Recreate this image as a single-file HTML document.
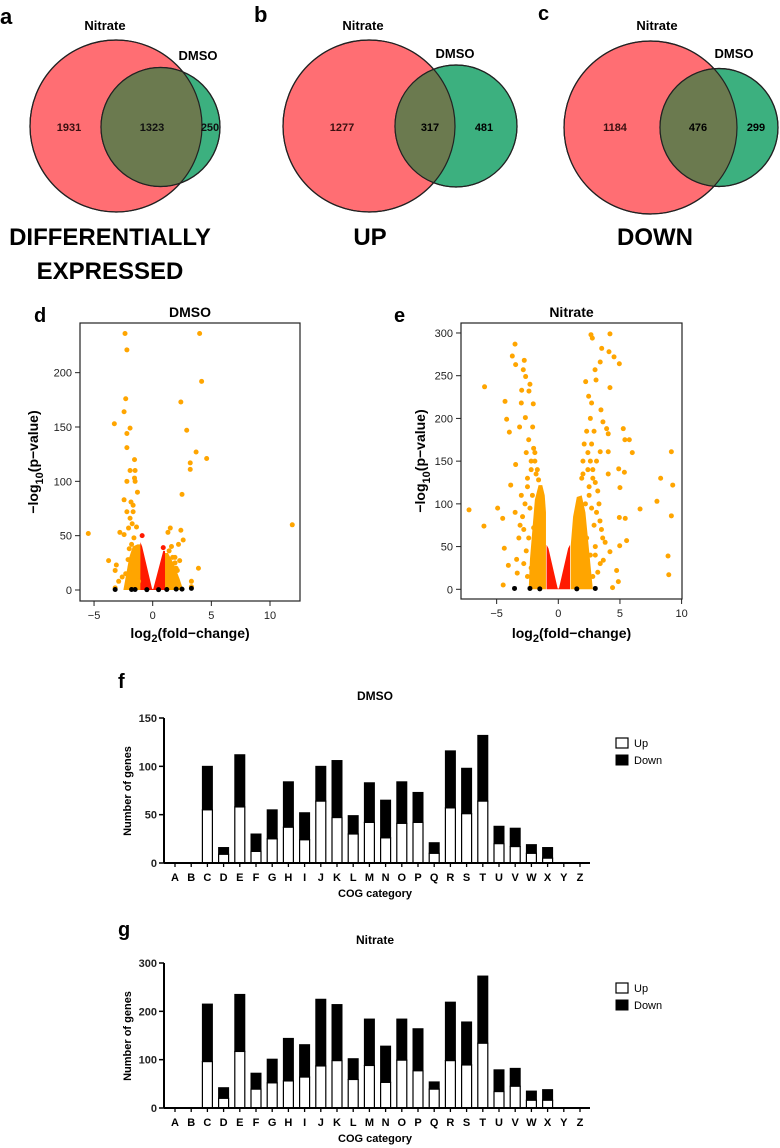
<!DOCTYPE html>
<html><head><meta charset="utf-8"><style>
html,body{margin:0;padding:0;background:#fff}
svg{display:block;font-family:"Liberation Sans",Arial,sans-serif}
</style></head><body>
<svg id="fig" width="780" height="1148" viewBox="0 0 780 1148">
<g>
<text x="0" y="24" font-size="22" font-weight="bold">a</text>
<circle cx="116" cy="126" r="86" fill="#ff6e73" stroke="#222" stroke-width="1.2"/>
<circle cx="160.5" cy="127" r="59.5" fill="#3cb07f" stroke="#222" stroke-width="1.2"/>
<clipPath id="ca"><circle cx="116" cy="126" r="86"/></clipPath>
<circle cx="160.5" cy="127" r="59.5" fill="#6b7a4f" clip-path="url(#ca)"/>
<circle cx="116" cy="126" r="86" fill="none" stroke="#222" stroke-width="1.2"/>
<circle cx="160.5" cy="127" r="59.5" fill="none" stroke="#222" stroke-width="1.2"/>
<text x="105" y="30" font-size="13" font-weight="bold" text-anchor="middle">Nitrate</text>
<text x="198" y="60" font-size="13" font-weight="bold" text-anchor="middle">DMSO</text>
<text x="69" y="131" font-size="11" font-weight="bold" text-anchor="middle" fill="#3a1010">1931</text>
<text x="152" y="131" font-size="11" font-weight="bold" text-anchor="middle" fill="#111">1323</text>
<text x="210" y="131" font-size="11" font-weight="bold" text-anchor="middle" fill="#111">250</text>
<text x="110" y="245" font-size="24" font-weight="bold" text-anchor="middle">DIFFERENTIALLY</text>
<text x="110" y="279" font-size="24" font-weight="bold" text-anchor="middle">EXPRESSED</text>
</g>
<g>
<text x="254" y="22" font-size="22" font-weight="bold">b</text>
<circle cx="369" cy="126" r="86" fill="#ff6e73" stroke="#222" stroke-width="1.2"/>
<circle cx="456" cy="126" r="61" fill="#3cb07f" stroke="#222" stroke-width="1.2"/>
<clipPath id="cb"><circle cx="369" cy="126" r="86"/></clipPath>
<circle cx="456" cy="126" r="61" fill="#6b7a4f" clip-path="url(#cb)"/>
<circle cx="369" cy="126" r="86" fill="none" stroke="#222" stroke-width="1.2"/>
<circle cx="456" cy="126" r="61" fill="none" stroke="#222" stroke-width="1.2"/>
<text x="363" y="30" font-size="13" font-weight="bold" text-anchor="middle">Nitrate</text>
<text x="455" y="58" font-size="13" font-weight="bold" text-anchor="middle">DMSO</text>
<text x="342" y="131" font-size="11" font-weight="bold" text-anchor="middle" fill="#3a1010">1277</text>
<text x="430" y="131" font-size="11" font-weight="bold" text-anchor="middle">317</text>
<text x="484" y="131" font-size="11" font-weight="bold" text-anchor="middle">481</text>
<text x="370" y="245" font-size="24" font-weight="bold" text-anchor="middle">UP</text>
</g>
<g>
<text x="538" y="20" font-size="20" font-weight="bold">c</text>
<circle cx="650.5" cy="127.5" r="86.5" fill="#ff6e73" stroke="#222" stroke-width="1.2"/>
<circle cx="719" cy="127.5" r="59" fill="#3cb07f" stroke="#222" stroke-width="1.2"/>
<clipPath id="cc"><circle cx="650.5" cy="127.5" r="86.5"/></clipPath>
<circle cx="719" cy="127.5" r="59" fill="#6b7a4f" clip-path="url(#cc)"/>
<circle cx="650.5" cy="127.5" r="86.5" fill="none" stroke="#222" stroke-width="1.2"/>
<circle cx="719" cy="127.5" r="59" fill="none" stroke="#222" stroke-width="1.2"/>
<text x="657" y="30" font-size="13" font-weight="bold" text-anchor="middle">Nitrate</text>
<text x="734" y="58" font-size="13" font-weight="bold" text-anchor="middle">DMSO</text>
<text x="615" y="131" font-size="11" font-weight="bold" text-anchor="middle" fill="#3a1010">1184</text>
<text x="698" y="131" font-size="11" font-weight="bold" text-anchor="middle">476</text>
<text x="756" y="131" font-size="11" font-weight="bold" text-anchor="middle">299</text>
<text x="655" y="245" font-size="24" font-weight="bold" text-anchor="middle">DOWN</text>
</g>
<g id="plots"></g>
</svg>
<script>
// ===== Volcano DMSO data =====
const dmsoOrangeX = [-2.36,-2.2,-2.3,-2.44,-3.27,-1.93,-2.2,-2.2,-1.55,-1.93,-1.5,-1.55,-1.5,-2.2,-1.3,-2.44,-1.85,-1.67,-2.2,-1.67,-1.93,-1.75,-1.38,-2.06,-2.8,-2.44,-5.49,-3.76,-3.1,-3.2,4.0,4.17,2.4,2.9,3.7,4.6,3.2,3.2,2.5,11.9,1.5,2.4,1.3,2.6,2.2,1.6,3.9,2.3,3.3,3.3,-3.2,-2.9,-2.6,1.9,2.0,
 -1.6,-1.8,-2.0,-1.4,-1.7,-2.1,-1.3,-1.9,-1.6,-2.3,-1.5,-1.2,1.4,1.7,1.9,2.1,1.3,1.6,1.8];
const dmsoOrangeY = [236,221,176,164,153,149,144,131,120,110,110,103,100,100,90,83,81,78,72,72,66,61,58,57,53,51,52,27,23,18,236,192,173,147,127,121,117,111,88,60,57,55,53,46,42,40,20,27,8,3,2,8,12,30,20,
 48,42,38,35,30,28,25,22,18,15,12,8,36,30,25,18,15,10,6];
const dmsoBlackX = [-3.2,-1.8,-1.5,-0.5,0.5,1.2,2.0,2.5,3.3];
const dmsoBlackY = [0.5,0.5,0.5,0.3,0.3,0.5,0.8,0.8,1.5];
const dmsoRedX = [-0.9,0.9];
const dmsoRedY = [50,39];
const dmsoBandLX = [-2.5,-2.3,-2.0,-1.7,-1.3,-1.0,-1.0];
const dmsoBandLY = [0,12,30,40,42,42,0];
const dmsoBandRX = [1.0,1.0,1.3,1.8,2.3,2.6];
const dmsoBandRY = [0,34,34,24,10,0];
const dmsoVX = [-1.05,-1.05,-0.9,-0.05,0.05,0.9,1.05,1.05];
const dmsoVY = [0,44,40,1,1,36,36,0];
const dmsoXTicks = [-5,0,5,10];
const dmsoYTicks = [0,50,100,150,200];
// ===== Volcano Nitrate data =====
const nitOrangeX = [-7.24,-6.03,-5.98,-4.92,-4.51,-4.32,-4.19,-3.97,-3.51,-3.73,-3.46,-2.76,-2.84,-2.65,-2.97,-2.38,-3.0,-2.03,-2.67,-3.14,-2.08,-2.3,-3.86,-3.46,-4.38,-4.05,-3.38,-4.47,-3.33,-3.0,-2.6,-2.5,-2.8,-3.2,-2.4,-2.2,
 2.65,4.19,2.76,3.52,4.11,3.4,4.95,4.52,2.98,2.22,3.06,4.19,2.46,2.7,3.46,3.92,4.05,3.62,5.27,5.4,5.76,6.0,3.4,4.05,9.17,8.3,9.28,8.0,9.17,6.63,4.9,5.36,5.0,4.95,5.43,5.54,4.98,8.9,8.96,4.05,3.38,4.19,3.65,4.73,4.87,4.4,2.6,2.9,3.1,2.8,3.3,3.6,3.0,2.7,2.5,3.2,
 -2.0,-1.9,-2.2,-2.5,-2.7,-2.9,-3.1,-2.4,-2.6,-1.8,-2.1,-2.3,-3.5,-2.8,-2.2,-1.9,-1.7,-1.6,-2.0,-2.5,
 2.3,2.1,2.4,2.6,2.8,3.0,3.2,2.2,2.0,2.5,2.7,3.5,3.8,2.3,2.9,3.1,2.0,2.4,1.9,2.6,3.4,3.0,2.2,2.8];
const nitOrangeY = [93,74,237,95,83,220,199,184,287,273,263,268,257,249,233,232,218,217,201,190,190,240,122,146,48,28,35,5,19,110,160,130,70,60,175,150,
 298,299,294,282,278,266,264,272,257,243,245,236,226,218,210,188,182,196,188,175,175,160,161,161,161,130,122,103,86,94,141,137,119,84,83,57,51,39,17,135,80,44,34,22,9,2,200,185,150,130,100,60,40,170,110,20,
 165,150,140,120,100,85,75,60,45,135,110,95,90,30,25,160,140,128,72,15,
 185,170,160,150,140,125,115,100,135,120,95,70,55,60,75,90,150,140,130,40,30,50,25,15];
const nitBlackX = [-3.55,-2.3,3.0,-1.5,1.5];
const nitBlackY = [1,1,1,0.5,0.5];
const nitBandLX = [-2.4,-2.3,-2.1,-1.9,-1.6,-1.3,-1.1,-1.0,-1.0];
const nitBandLY = [0,35,70,105,122,122,110,90,0];
const nitBandRX = [1.0,1.0,1.2,1.5,1.9,2.2,2.4,2.6,2.8];
const nitBandRY = [0,50,85,108,110,90,60,30,0];
const nitVX = [-0.95,-0.95,-0.8,-0.05,0.05,0.8,0.95,0.95];
const nitVY = [0,52,48,1,1,48,52,0];
const nitXTicks = [-5,0,5,10];
const nitYTicks = [0,50,100,150,200,250,300];
// ===== COG bars =====
const cogCats = ["A","B","C","D","E","F","G","H","I","J","K","L","M","N","O","P","Q","R","S","T","U","V","W","X","Y","Z"];
const dmsoUp =    [0,0,55,9,58,12,25,37,24,64,47,30,42,26,41,42,10,57,51,64,20,17,10,5,0,0];
const dmsoTotal = [0,0,100,16,112,30,55,84,52,100,106,49,83,65,84,73,21,116,98,132,38,36,19,16,0,0];
const nitUp =     [0,0,96,20,117,39,52,56,64,87,98,59,88,53,99,77,39,98,89,134,34,45,16,16,0,0];
const nitTotal =  [0,0,215,42,235,72,101,144,131,225,214,102,184,128,184,164,54,219,178,273,79,82,35,38,0,0];
const dmsoBarTicks = [0,50,100,150];
const nitBarTicks = [0,100,200,300];

const NS = "http://www.w3.org/2000/svg";
const root = document.getElementById('plots');
function mk(tag, attrs, parent){const e=document.createElementNS(NS,tag);for(const k in attrs)e.setAttribute(k,attrs[k]);(parent||root).appendChild(e);return e;}
function txt(s, attrs, parent){const e=mk('text',attrs,parent);e.textContent=s;return e;}

function volcano(cfg){
  const g = mk('g',{});
  
  
  const sx = v => cfg.x0 + v*cfg.kx;
  const sy = v => cfg.y0 - v*cfg.ky;
  const clipId = cfg.name+'-clip';
  const cp = mk('clipPath',{id:clipId},g); mk('rect',{x:cfg.bx0,y:cfg.by0,width:cfg.bx1-cfg.bx0,height:cfg.by1-cfg.by0},cp);
  const pg = mk('g',{'clip-path':'url(#'+clipId+')'},g);
  function poly(xs,ys,fill,nm){
    const p = mk('polygon',{points:xs.map((x,i)=>sx(x)+','+sy(ys[i])).join(' '),fill:fill},pg);
    
    
  }
  poly(cfg.bandLX,cfg.bandLY,'#ffa500','dense-orange-left');
  poly(cfg.bandRX,cfg.bandRY,'#ffa500','dense-orange-right');
  poly(cfg.vX,cfg.vY,'#ff1a00','dense-red-center');
  function pts(xs,ys,fill,nm){
    xs.forEach((x,i)=>{const c=mk('circle',{cx:sx(x),cy:sy(ys[i]),r:2.5,fill:fill},pg);
      
      });
  }
  pts(cfg.oX,cfg.oY,'#ffa500','orange-point');
  if(cfg.rX) pts(cfg.rX,cfg.rY,'#ff1a00','red-point');
  pts(cfg.kX,cfg.kY,'#000','black-point');
  const frame = mk('rect',{x:cfg.bx0,y:cfg.by0,width:cfg.bx1-cfg.bx0,height:cfg.by1-cfg.by0,fill:'none',stroke:'#222','stroke-width':1.2},g);
  
  
  cfg.xt.forEach(t=>{mk('line',{x1:sx(t),x2:sx(t),y1:cfg.by1,y2:cfg.by1+5,stroke:'#222'},g);
    const l=txt(String(t).replace('-','\u2212'),{x:sx(t),y:cfg.by1+18,'font-size':11,'text-anchor':'middle',fill:'#222'},g);
    
    });
  cfg.yt.forEach(t=>{mk('line',{x1:cfg.bx0-5,x2:cfg.bx0,y1:sy(t),y2:sy(t),stroke:'#222'},g);
    const l=txt(String(t),{x:cfg.bx0-8,y:sy(t)+4,'font-size':11,'text-anchor':'end',fill:'#222'},g);
    
    });
  const cx=(cfg.bx0+cfg.bx1)/2;
  const t=txt(cfg.title,{x:cx,y:cfg.by0-6,'font-size':14,'font-weight':'bold','text-anchor':'middle'},g);
  
  
  const xt=mk('text',{x:cx,y:638,'font-size':14,'font-weight':'bold','text-anchor':'middle'},g);
  
  
  xt.innerHTML='log<tspan dy="4" font-size="11">2</tspan><tspan dy="-4">(fold\u2212change)</tspan>';
  const yt=mk('text',{x:0,y:0,'font-size':14,'font-weight':'bold','text-anchor':'middle',transform:'translate('+cfg.ytx+','+((cfg.by0+cfg.by1)/2)+') rotate(-90)'},g);
  
  
  yt.innerHTML='\u2212log<tspan dy="5" font-size="11">10</tspan><tspan dy="-5">(p\u2212value)</tspan>';
  const pl=txt(cfg.letter,{x:cfg.lx,y:322,'font-size':20,'font-weight':'bold'},g);
  
  
}
volcano({name:'volcano-dmso',title:'DMSO',letter:'d',lx:34,ytx:38,bx0:80,bx1:300,by0:323,by1:601,x0:152.7,kx:11.73,y0:590,ky:1.0867,
  oX:dmsoOrangeX,oY:dmsoOrangeY,kX:dmsoBlackX,kY:dmsoBlackY,rX:dmsoRedX,rY:dmsoRedY,bandLX:dmsoBandLX,bandLY:dmsoBandLY,bandRX:dmsoBandRX,bandRY:dmsoBandRY,vX:dmsoVX,vY:dmsoVY,xt:dmsoXTicks,yt:dmsoYTicks});
volcano({name:'volcano-nitrate',title:'Nitrate',letter:'e',lx:394,ytx:425,bx0:461,bx1:682,by0:323,by1:599,x0:558.3,kx:12.33,y0:589.3,ky:0.8544,
  oX:nitOrangeX,oY:nitOrangeY,kX:nitBlackX,kY:nitBlackY,bandLX:nitBandLX,bandLY:nitBandLY,bandRX:nitBandRX,bandRY:nitBandRY,vX:nitVX,vY:nitVY,xt:nitXTicks,yt:nitYTicks});

function bars(cfg){
  const g = mk('g',{});
  
  
  const sx = i => 175 + i*16.2;
  const sy = v => cfg.y0 - v*cfg.ky;
  cogCats.forEach((c,i)=>{
    const w=10, x=sx(i)-w/2;
    if(cfg.total[i]>0){
      const d=mk('rect',{x:x,y:sy(cfg.total[i]),width:w,height:sy(cfg.up[i])-sy(cfg.total[i]),fill:'#000',stroke:'#000','stroke-width':1},g);
      
      
      const u=mk('rect',{x:x,y:sy(cfg.up[i]),width:w,height:cfg.y0-sy(cfg.up[i]),fill:'#fff',stroke:'#000','stroke-width':1.2},g);
      
      
    }
    mk('line',{x1:sx(i),x2:sx(i),y1:cfg.y0,y2:cfg.y0+4,stroke:'#000','stroke-width':1.3},g);
    const l=txt(c,{x:sx(i),y:cfg.y0+18,'font-size':11,'font-weight':'bold','text-anchor':'middle'},g);
    
    
  });
  mk('line',{x1:164,x2:590,y1:cfg.y0,y2:cfg.y0,stroke:'#000','stroke-width':2},g);
  mk('line',{x1:164,x2:164,y1:sy(cfg.ticks[cfg.ticks.length-1]),y2:cfg.y0,stroke:'#000','stroke-width':2},g);
  cfg.ticks.forEach(t=>{mk('line',{x1:159,x2:164,y1:sy(t),y2:sy(t),stroke:'#000','stroke-width':1.5},g);
    const l=txt(String(t),{x:157,y:sy(t)+4,'font-size':11,'font-weight':'bold','text-anchor':'end',fill:'#222'},g);
    
    });
  const t=txt(cfg.title,{x:375,y:cfg.ty,'font-size':12,'font-weight':'bold','text-anchor':'middle'},g);
  
  
  const xt=txt('COG category',{x:375,y:cfg.y0+34,'font-size':11,'font-weight':'bold','text-anchor':'middle'},g);
  
  
  const yt=txt('Number of genes',{x:0,y:0,'font-size':11,'font-weight':'bold','text-anchor':'middle',transform:'translate(131,'+(cfg.y0-72)+') rotate(-90)'},g);
  
  
  const pl=txt(cfg.letter,{x:118,y:cfg.ly,'font-size':20,'font-weight':'bold'},g);
  
  
  const ly=cfg.y0-125;
  const r1=mk('rect',{x:616,y:ly,width:12,height:10,fill:'#fff',stroke:'#000','stroke-width':1.2},g);
  
  
  const r2=mk('rect',{x:616,y:ly+17,width:12,height:10,fill:'#000',stroke:'#000'},g);
  
  
  const t1=txt('Up',{x:634,y:ly+9,'font-size':11},g);
  
  
  const t2=txt('Down',{x:634,y:ly+26,'font-size':11},g);
  
  
}
bars({name:'cog-bar-chart-dmso',title:'DMSO',letter:'f',ly:688,ty:700,y0:863,ky:145/150,up:dmsoUp,total:dmsoTotal,ticks:dmsoBarTicks});
bars({name:'cog-bar-chart-nitrate',title:'Nitrate',letter:'g',ly:936,ty:944,y0:1108,ky:145/300,up:nitUp,total:nitTotal,ticks:nitBarTicks});
</script>
</body></html>
